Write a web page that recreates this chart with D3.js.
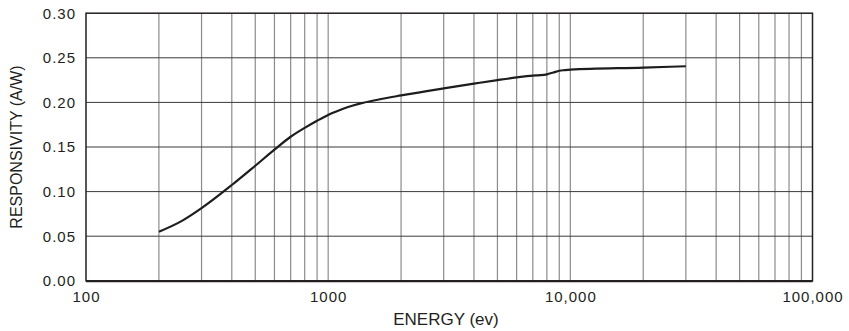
<!DOCTYPE html>
<html>
<head>
<meta charset="utf-8">
<script src="https://cdn.jsdelivr.net/npm/d3@7"></script>
<style>
  html, body { margin: 0; padding: 0; background: #fff; }
  svg { display: block; }
  text { font-family: "Liberation Sans", Arial, Helvetica, sans-serif; fill: #231f20; }
</style>
</head>
<body>
<svg id="chart" width="849" height="331"></svg>
<script>
// ---- data ----
const energy = [200, 250, 300, 400, 500, 600, 700, 800, 900, 1000, 1100, 1200, 1350, 1600, 2000, 3000, 4000, 5000, 6000, 7000, 7500, 8000, 8500, 9000, 9500, 10000, 20000, 30000];
const responsivity = [0.055, 0.0675, 0.0815, 0.1074, 0.129, 0.147, 0.1615, 0.1715, 0.1795, 0.186, 0.1907, 0.1945, 0.1986, 0.203, 0.2078, 0.2157, 0.221, 0.225, 0.228, 0.230, 0.2305, 0.2315, 0.2335, 0.2355, 0.2362, 0.2367, 0.239, 0.2405];
const yTicks = [0, 0.05, 0.10, 0.15, 0.20, 0.25, 0.30];
const xLabelTicks = [100, 1000, 10000, 100000];
const xLabelText = ["100", "1000", "10,000", "100,000"];
const xTitle = "ENERGY (ev)";
const yTitle = "RESPONSIVITY (A/W)";

(function () {
// ---- layout ----
const pL = 86, pR = 812.5, pT = 13.2, pB = 280.8;
const svg = d3.select("#chart");

const x = d3.scaleLog().domain([100, 100000]).range([pL, pR]);
const y = d3.scaleLinear().domain([0, 0.30]).range([pB, pT]);

// vertical grid lines (log minor)
const minor = [];
for (let dec = 100; dec < 100000; dec *= 10) {
  for (let m = 1; m < 10; m++) minor.push(dec * m);
}

svg.append("g")
  .selectAll("line")
  .data(minor.filter(d => d > 100 && d < 100000))
  .join("line")
  .attr("x1", d => x(d)).attr("x2", d => x(d))
  .attr("y1", pT).attr("y2", pB)
  .attr("stroke", "#8c8c8c")
  .attr("stroke-width", 1.2);

// horizontal grid lines
svg.append("g")
  .selectAll("line")
  .data(yTicks.filter(d => d > 0 && d < 0.30))
  .join("line")
  .attr("x1", pL).attr("x2", pR)
  .attr("y1", d => y(d)).attr("y2", d => y(d))
  .attr("stroke", "#3a3a3a")
  .attr("stroke-width", 1);

// frame
svg.append("rect")
  .attr("x", pL).attr("y", pT)
  .attr("width", pR - pL).attr("height", pB - pT)
  .attr("fill", "none")
  .attr("stroke", "#231f20")
  .attr("stroke-width", 1.5);
svg.append("line")
  .attr("x1", pL).attr("x2", pR)
  .attr("y1", pB + 0.5).attr("y2", pB + 0.5)
  .attr("stroke", "#231f20").attr("stroke-width", 2);

// y axis labels
const yAxis = d3.axisLeft(y).tickValues(yTicks).tickFormat(d3.format(".2f")).tickSize(0).tickPadding(10);
const gy = svg.append("g").attr("transform", `translate(${pL},0)`).call(yAxis);
gy.select(".domain").remove();
gy.selectAll("text")
  .style("font-family", "'Liberation Sans', Arial, sans-serif")
  .style("font-size", "15px")
  .style("letter-spacing", "1px")
  .attr("fill", "#231f20");

// x axis labels
const xAxis = d3.axisBottom(x).tickValues(xLabelTicks)
  .tickFormat((d, i) => xLabelText[i]).tickSize(0).tickPadding(11);
const gx = svg.append("g").attr("transform", `translate(0,${pB})`).call(xAxis);
gx.select(".domain").remove();
gx.selectAll("text")
  .style("font-family", "'Liberation Sans', Arial, sans-serif")
  .style("font-size", "15px")
  .style("letter-spacing", "1px")
  .attr("fill", "#231f20");

// curve
const line = d3.line()
  .x((d, i) => x(energy[i]))
  .y(d => y(d))
  .curve(d3.curveMonotoneX);
svg.append("path")
  .datum(responsivity)
  .attr("d", line)
  .attr("fill", "none")
  .attr("stroke", "#1f1c1d")
  .attr("stroke-width", 2.2)
  .attr("stroke-linejoin", "round");

// titles
svg.append("text")
  .attr("x", 446).attr("y", 325)
  .attr("text-anchor", "middle")
  .style("font-size", "17px")
  .text(xTitle);

svg.append("text")
  .attr("transform", "translate(22,147) rotate(-90)")
  .attr("text-anchor", "middle")
  .style("font-size", "16px")
  .text(yTitle);
})();
</script>
</body>
</html>
